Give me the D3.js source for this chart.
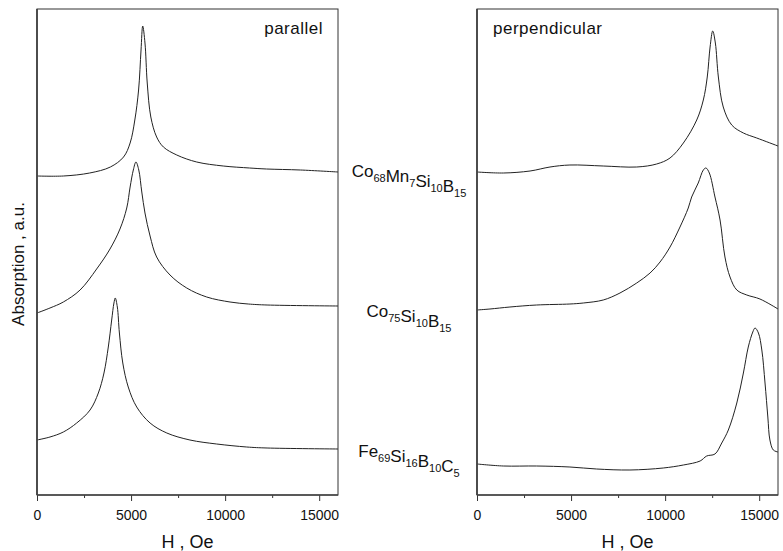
<!DOCTYPE html>
<html>
<head>
<meta charset="utf-8">
<script src="https://cdn.jsdelivr.net/npm/d3@7/dist/d3.min.js"></script>
<style>
	body { margin: 0; background: #fff; }
	text { font-family: Arial, 'Liberation Sans', sans-serif; fill: #111; }
</style>
</head>
<body>
<div id="graph"></div>
<script>
// Field axis ticks (Oe)
const majorTicks = [0, 5000, 10000, 15000];
const minorTicks = [2500, 7500, 12500];
const panelTitles = ['parallel', 'perpendicular'];

// Sample names, as [element, subscript] pairs
const sampleNames = [
	[['Co', '68'], ['Mn', '7'], ['Si', '10'], ['B', '15']],
	[['Co', '75'], ['Si', '10'], ['B', '15']],
	[['Fe', '69'], ['Si', '16'], ['B', '10'], ['C', '5']],
];

// Parallel geometry - field H (Oe) and absorption (a.u.)
const parCoMnH = [0, 1400, 2800, 3900, 4600, 4950, 5200, 5400, 5530, 5620, 5740, 5860, 6050, 6360, 6720, 7430, 8490, 9900, 11300, 12200, 14000, 16000];
const parCoMnA = [319, 319, 322, 328, 338, 352, 375, 405, 445, 469, 452, 412, 378, 358, 348, 340, 333, 329, 327, 326, 325, 323];

const parCoH = [0, 690, 1400, 2290, 3170, 3880, 4410, 4770, 4950, 5120, 5260, 5410, 5570, 5740, 6010, 6360, 7070, 7960, 9020, 10260, 11230, 12230, 16000];
const parCoA = [182, 187, 193, 205, 226, 246, 266, 287, 308, 325, 333, 325, 303, 282, 259, 238, 220, 207, 198, 193, 191, 190, 189];

const parFeH = [0, 690, 1400, 2110, 2820, 3260, 3560, 3790, 3970, 4090, 4160, 4270, 4380, 4560, 4850, 5300, 6010, 6900, 8130, 9550, 11150, 12230, 16000];
const parFeA = [55, 58, 63, 72, 85, 102, 122, 148, 175, 192, 197, 188, 162, 132, 108, 88, 72, 62, 55, 51, 48, 47, 46];

// Perpendicular geometry
const perCoMnH = [0, 1400, 2820, 3880, 4940, 6710, 8490, 9550, 10260, 10970, 11680, 12030, 12240, 12390, 12530, 12670, 12830, 13090, 13540, 14160, 14870, 16000];
const perCoMnA = [323, 322, 324, 328, 330, 329, 328, 331, 337, 352, 375, 395, 418, 448, 464, 452, 418, 388, 370, 362, 357, 349];

const perCoH = [0, 690, 1750, 3170, 4940, 5650, 6710, 7600, 8490, 9200, 9730, 10260, 10790, 11230, 11410, 11760, 12030, 12170, 12350, 12650, 12920, 13180, 13450, 13810, 14340, 15040, 16000];
const perCoA = [185, 186, 188, 190, 191, 192, 195, 202, 212, 222, 233, 248, 268, 287, 298, 312, 325, 327, 322, 298, 275, 238, 218, 205, 200, 196, 186];

const perFeH = [0, 1400, 3170, 4940, 6360, 8130, 9900, 10970, 11860, 12210, 12650, 13010, 13360, 13810, 14160, 14420, 14660, 14780, 14960, 15140, 15310, 15460, 15570, 15750, 16000];
const perFeA = [31, 29, 29, 28, 26, 25, 27, 30, 34, 39, 41, 52, 65, 92, 122, 148, 163, 167, 162, 145, 112, 78, 55, 45, 43];

const width = 783,
	height = 551,
	plotTop = 9,
	plotBottom = 495;

const svg = d3
	.select('#graph')
	.append('svg')
	.attr('width', width)
	.attr('height', height);

// Shared absorption scale
const y = d3.scaleLinear().domain([0, 486]).range([plotBottom, plotTop]);

const panels = [
	{
		left: 37,
		right: 338,
		series: [
			[parCoMnH, parCoMnA],
			[parCoH, parCoA],
			[parFeH, parFeA],
		],
	},
	{
		left: 477,
		right: 778,
		series: [
			[perCoMnH, perCoMnA],
			[perCoH, perCoA],
			[perFeH, perFeA],
		],
	},
];

panels.forEach((p, i) => {
	const x = d3.scaleLinear().domain([0, 16000]).range([p.left, p.right]);
	const g = svg.append('g');

	// Frame
	g.append('rect')
		.attr('x', p.left)
		.attr('y', plotTop)
		.attr('width', p.right - p.left)
		.attr('height', plotBottom - plotTop)
		.attr('fill', 'none')
		.attr('stroke', '#333')
		.attr('stroke-width', 1);

	// Curves
	const line = d3
		.line()
		.x((d) => x(d[0]))
		.y((d) => y(d[1]))
		.curve(d3.curveCatmullRom.alpha(0.5));

	p.series.forEach(([hs, as]) => {
		g.append('path')
			.datum(hs.map((h, k) => [h, as[k]]))
			.attr('fill', 'none')
			.attr('stroke', '#222')
			.attr('stroke-width', 1)
			.attr('d', line);
	});

	// Minor ticks
	g.append('g')
		.attr('transform', `translate(0, ${plotBottom})`)
		.call(d3.axisBottom(x).tickValues(minorTicks).tickSize(3).tickFormat(''))
		.call((a) => a.select('.domain').remove())
		.selectAll('line')
		.attr('stroke', '#333');

	// Major ticks + labels
	const ax = g
		.append('g')
		.attr('transform', `translate(0, ${plotBottom})`)
		.call(
			d3
				.axisBottom(x)
				.tickValues(majorTicks)
				.tickSize(6)
				.tickPadding(9)
				.tickFormat(d3.format('d'))
		);
	ax.select('.domain').remove();
	ax.selectAll('line').attr('stroke', '#333');
	ax.selectAll('text')
		.style('font-size', '14px')
		.style('font-family', "Arial, 'Liberation Sans', sans-serif")
		.attr('fill', '#111');

	// Heavier left and bottom axis lines
	g.append('line')
		.attr('x1', p.left)
		.attr('x2', p.left)
		.attr('y1', plotTop)
		.attr('y2', plotBottom)
		.attr('stroke', '#444')
		.attr('stroke-width', 1.8);
	g.append('line')
		.attr('x1', p.left)
		.attr('x2', p.right)
		.attr('y1', plotBottom)
		.attr('y2', plotBottom)
		.attr('stroke', '#444')
		.attr('stroke-width', 1.6);

	// X axis title
	g.append('text')
		.attr('x', (p.left + p.right) / 2)
		.attr('y', 548)
		.attr('text-anchor', 'middle')
		.style('font-size', '18px')
		.text('H , Oe');

	// Panel title
	g.append('text')
		.attr('x', i === 0 ? p.right - 15 : p.left + 16)
		.attr('y', 34)
		.attr('text-anchor', i === 0 ? 'end' : 'start')
		.style('font-size', '17px')
		.style('letter-spacing', '0.5px')
		.text(panelTitles[i]);
});

// Y axis title
svg
	.append('text')
	.attr('transform', 'translate(24, 264) rotate(-90)')
	.attr('text-anchor', 'middle')
	.style('font-size', '17px')
	.text('Absorption , a.u.');

// Sample labels between the panels
const labelY = [177, 317, 457];
sampleNames.forEach((parts, i) => {
	const t = svg
		.append('text')
		.attr('x', 409)
		.attr('y', labelY[i])
		.attr('text-anchor', 'middle')
		.style('font-size', '17px');
	parts.forEach(([el, sub]) => {
		t.append('tspan').attr('dy', 0).text(el);
		t.append('tspan').attr('dy', 5).style('font-size', '11px').text(sub);
		t.append('tspan').attr('dy', -5).text('');
	});
});
</script>
</body>
</html>
